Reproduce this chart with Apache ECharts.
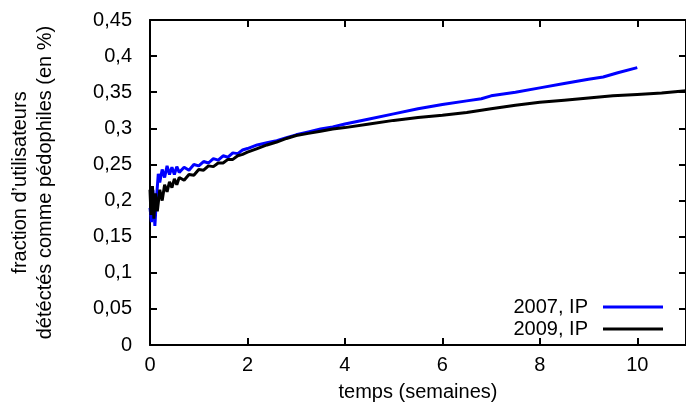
<!DOCTYPE html>
<html>
<head>
<meta charset="utf-8">
<script src="https://cdn.jsdelivr.net/npm/echarts@6/dist/echarts.min.js"></script>
<style>html,body{margin:0;padding:0;background:#fff}#c{width:686px;height:414px}</style>
</head>
<body>
<div id="c"></div>
<script>
const seriesNames = ['2007, IP', '2009, IP'];
const x2007 = [0, 0.03, 0.06, 0.1, 0.13, 0.17, 0.2, 0.25, 0.3, 0.35, 0.4, 0.45, 0.5, 0.55, 0.6, 0.7, 0.8, 0.9, 1.0, 1.1, 1.2, 1.3, 1.4, 1.5, 1.6, 1.7, 1.8, 1.9, 2.0, 2.2, 2.4, 2.6, 2.8, 3.0, 3.25, 3.5, 3.75, 4.0, 4.5, 5.0, 5.5, 6.0, 6.5, 6.8, 7.0, 7.5, 8.0, 8.5, 9.0, 9.3, 9.6, 10.0];
const y2007 = [0.19, 0.17, 0.215, 0.165, 0.20, 0.237, 0.225, 0.243, 0.232, 0.248, 0.236, 0.246, 0.236, 0.247, 0.239, 0.246, 0.242, 0.25, 0.248, 0.254, 0.252, 0.258, 0.256, 0.262, 0.26, 0.266, 0.265, 0.27, 0.272, 0.277, 0.28, 0.283, 0.287, 0.291, 0.295, 0.299, 0.302, 0.306, 0.313, 0.320, 0.327, 0.333, 0.338, 0.341, 0.345, 0.35, 0.356, 0.362, 0.368, 0.371, 0.377, 0.384];
const x2009 = [0, 0.02, 0.05, 0.08, 0.11, 0.15, 0.2, 0.25, 0.3, 0.35, 0.4, 0.45, 0.5, 0.55, 0.6, 0.7, 0.8, 0.9, 1.0, 1.1, 1.2, 1.3, 1.4, 1.5, 1.6, 1.7, 1.8, 1.9, 2.0, 2.2, 2.4, 2.6, 2.8, 3.0, 3.25, 3.5, 3.75, 4.0, 4.5, 5.0, 5.5, 6.0, 6.5, 7.0, 7.5, 8.0, 8.5, 9.0, 9.5, 10.0, 10.5, 11.0];
const y2009 = [0.215, 0.18, 0.22, 0.175, 0.21, 0.185, 0.215, 0.2, 0.222, 0.212, 0.226, 0.218, 0.23, 0.222, 0.232, 0.228, 0.236, 0.235, 0.243, 0.242, 0.248, 0.247, 0.252, 0.252, 0.257, 0.257, 0.262, 0.264, 0.267, 0.272, 0.277, 0.281, 0.286, 0.29, 0.293, 0.296, 0.299, 0.301, 0.306, 0.311, 0.315, 0.318, 0.322, 0.327, 0.332, 0.336, 0.339, 0.342, 0.345, 0.347, 0.349, 0.352];
const xTitle = 'temps (semaines)';
const yTitle = 'fraction d’utilisateurs\ndétéctés comme pédophiles (en %)';

const FONT = 'Liberation Sans, Arial, Helvetica, sans-serif';
const pair = (xs, ys) => xs.map((x, i) => [x, ys[i]]);
const fmtY = v => { const r = Math.round(v * 100) / 100; return String(r).replace('.', ','); };

const axisCommon = {
  axisLine: { show: true, onZero: false, lineStyle: { color: '#000', width: 2 } },
  axisTick: { show: true, inside: true, length: 7, lineStyle: { color: '#000', width: 2 } },
  splitLine: { show: false }
};

const chart = echarts.init(document.getElementById('c'), null, { renderer: 'canvas' });
chart.setOption({
  animation: false,
  backgroundColor: '#fff',
  grid: { left: 147, right: -3, top: 20, bottom: 69 },
  legend: {
    orient: 'vertical', right: 18, top: 292, align: 'right',
    itemWidth: 60, itemHeight: 3, itemGap: 2, icon: 'rect',
    textStyle: { fontFamily: FONT, fontSize: 20, color: '#000', lineHeight: 20, padding: [0, 10, 0, 0] },
    data: seriesNames
  },
  xAxis: [
    Object.assign({}, axisCommon, {
      type: 'value', min: 0, max: 11, interval: 2, position: 'bottom',
      name: xTitle, nameLocation: 'middle', nameGap: 37,
      nameTextStyle: { fontFamily: FONT, fontSize: 20, color: '#000' },
      axisLabel: { fontFamily: FONT, fontSize: 20, color: '#000', margin: 10, showMaxLabel: false,
        formatter: v => (v > 10 ? '' : String(v)) }
    }),
    Object.assign({}, axisCommon, {
      type: 'value', min: 0, max: 11, interval: 2, position: 'top',
      axisLabel: { show: false }
    })
  ],
  yAxis: [
    Object.assign({}, axisCommon, {
      type: 'value', min: 0, max: 0.45, interval: 0.05, position: 'left',
      name: yTitle, nameLocation: 'middle', nameGap: 92, nameRotate: 90,
      nameTextStyle: { fontFamily: FONT, fontSize: 20, color: '#000', lineHeight: 25, align: 'center' },
      axisLabel: { fontFamily: FONT, fontSize: 20, color: '#000', margin: 18, formatter: fmtY }
    }),
    Object.assign({}, axisCommon, {
      type: 'value', min: 0, max: 0.45, interval: 0.05, position: 'right',
      axisLabel: { show: false }
    })
  ],
  series: [
    { name: seriesNames[0], type: 'line', data: pair(x2007, y2007), showSymbol: false, symbol: 'none',
      color: '#0000ff', lineStyle: { color: '#0000ff', width: 3 }, z: 2 },
    { name: seriesNames[1], type: 'line', data: pair(x2009, y2009), showSymbol: false, symbol: 'none',
      color: '#000000', lineStyle: { color: '#000000', width: 3 }, z: 3 }
  ]
});
</script>
</body>
</html>
